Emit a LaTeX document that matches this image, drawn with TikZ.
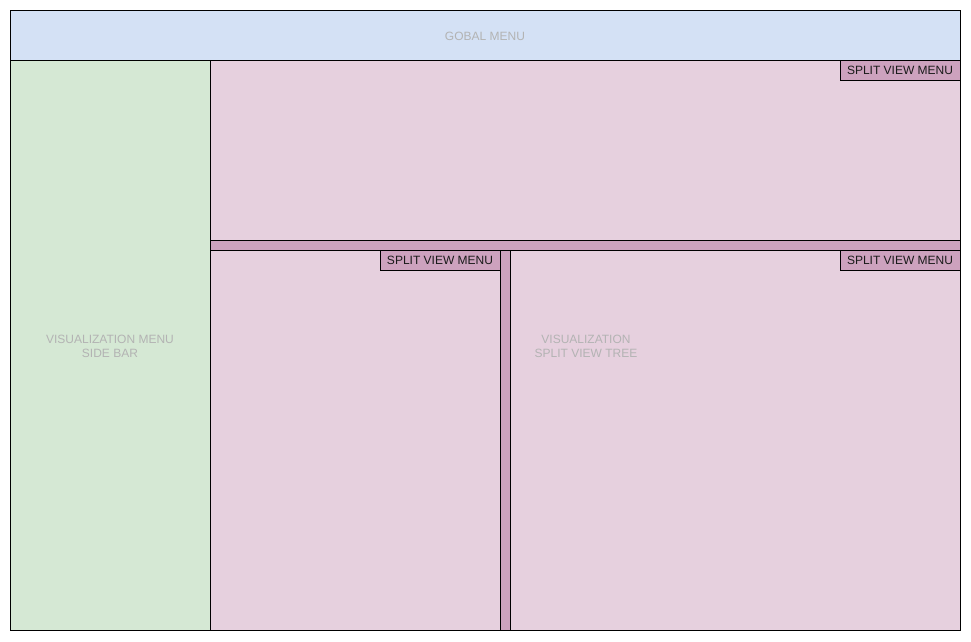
\documentclass[tikz,border=0pt]{standalone}
\usepackage{fontspec}
\setmainfont{Liberation Sans}
\definecolor{gblue}{HTML}{D4E1F5}
\definecolor{ggreen}{HTML}{D5E8D4}
\definecolor{gpink}{HTML}{E6D0DE}
\definecolor{gdpink}{HTML}{CDA2BE}
\definecolor{gtext}{HTML}{B3B3B3}
\definecolor{mtext}{HTML}{1A1A1A}
\begin{document}
\begin{tikzpicture}[x=1pt,y=-1pt,
  panel/.style={draw=black,line width=0.9pt,inner sep=0pt,outer sep=0pt,anchor=north west},
  menubox/.style={panel,fill=gdpink,minimum width=120pt,minimum height=20pt,font=\fontsize{12pt}{14pt}\selectfont,text=mtext},
  lbl/.style={font=\fontsize{12pt}{14pt}\selectfont,text=gtext,align=center,inner sep=0pt}]
\useasboundingbox (0,0) rectangle (971,641);
\fill[white] (0,0) rectangle (971,641);
\node[panel,fill=gblue,minimum width=950pt,minimum height=50pt] (glob) at (10,10) {};
\node[panel,fill=ggreen,minimum width=200pt,minimum height=570pt] (side) at (10,60) {};
\node[panel,fill=gpink,minimum width=750pt,minimum height=180pt] (top) at (210,60) {};
\node[panel,fill=gdpink,minimum width=750pt,minimum height=10pt] (hbar) at (210,240) {};
\node[panel,fill=gpink,minimum width=290pt,minimum height=380pt] (bl) at (210,250) {};
\node[panel,fill=gdpink,minimum width=10pt,minimum height=380pt] (vbar) at (500,250) {};
\node[panel,fill=gpink,minimum width=450pt,minimum height=380pt] (br) at (510,250) {};
\node[menubox,text depth=0pt] (m1) at (840,60.5) {SPLIT VIEW MENU};
\node[menubox,text depth=0pt] (m2) at (380,250.5) {SPLIT VIEW MENU};
\node[menubox,text depth=0pt] (m3) at (840,250.5) {SPLIT VIEW MENU};
\node[lbl] (gl) at (485,36) {GOBAL MENU};
\node[lbl] (sl) at (110,346) {VISUALIZATION MENU\\SIDE BAR};
\node[lbl] (vl) at (586,346) {VISUALIZATION\\SPLIT VIEW TREE};
\end{tikzpicture}
\end{document}
